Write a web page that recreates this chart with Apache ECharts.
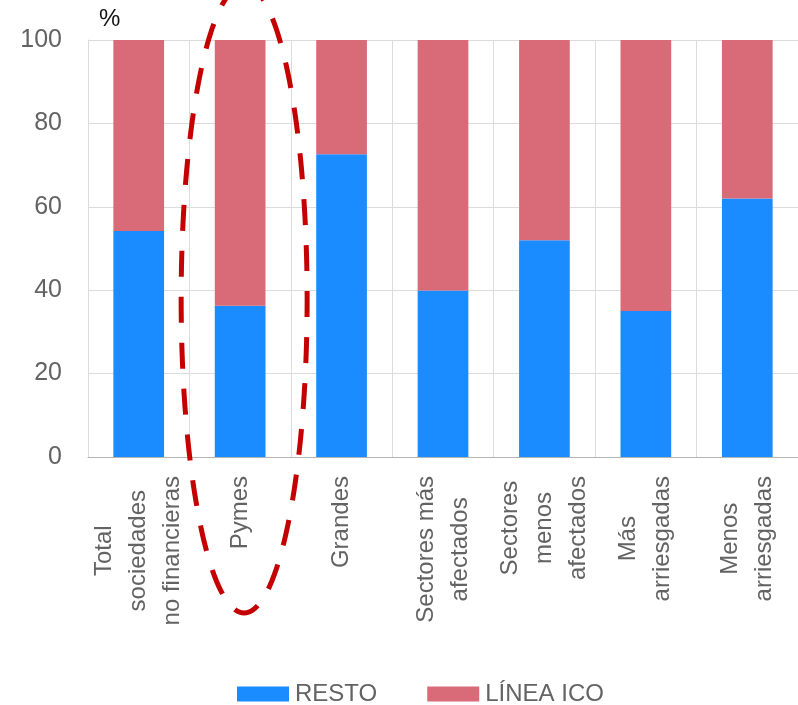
<!DOCTYPE html>
<html>
<head>
<meta charset="utf-8">
<script src="https://cdn.jsdelivr.net/npm/echarts@6/dist/echarts.min.js"></script>
<style>
  html, body { margin: 0; padding: 0; background: #fff; }
  #chart { width: 798px; height: 705px; }
</style>
</head>
<body>
<div id="chart"></div>
<script>
// Groups of non-financial companies (line breaks as shown under the axis)
var categories = [
  'Total\nsociedades\nno financieras',
  'Pymes',
  'Grandes',
  'Sectores más\nafectados',
  'Sectores\nmenos\nafectados',
  'Más\narriesgadas',
  'Menos\narriesgadas'
];
// Share of new credit, %
var resto = [54.2, 36.3, 72.6, 39.9, 52.0, 35.0, 62.0];
var lineaIco = [45.8, 63.7, 27.4, 60.1, 48.0, 65.0, 38.0];
var yTicks = [0, 20, 40, 60, 80, 100];
var highlighted = 'Pymes';

var FONT = 'Liberation Sans';
var TEXT = '#636363';

var chart = echarts.init(document.getElementById('chart'));

chart.setOption({
  animation: false,
  textStyle: { fontFamily: FONT },
  grid: { left: 88, top: 40, right: -1, bottom: 248, containLabel: false },
  legend: {
    data: ['RESTO', 'LÍNEA ICO'],
    left: 232,
    top: 677,
    icon: 'rect',
    itemWidth: 52,
    itemHeight: 15,
    itemGap: 50,
    textStyle: { fontFamily: FONT, fontSize: 24, color: TEXT, padding: [0, 0, 0, 1] }
  },
  xAxis: {
    type: 'category',
    data: categories,
    boundaryGap: true,
    axisLine: { show: true, lineStyle: { color: '#b5b5b5', width: 1 } },
    axisTick: { show: false },
    splitLine: { show: true, lineStyle: { color: '#dcdcdc', width: 1 } },
    axisLabel: {
      interval: 0,
      rotate: 90,
      margin: 19,
      formatter: function (v) {
        return v.split('\n').map(function (l) { return '{c|' + l + '}'; }).join('\n');
      },
      rich: {
        c: { align: 'center', fontFamily: FONT, fontSize: 24, lineHeight: 34, color: TEXT }
      }
    }
  },
  yAxis: {
    type: 'value',
    min: yTicks[0],
    max: yTicks[yTicks.length - 1],
    interval: yTicks[1] - yTicks[0],
    name: '%',
    nameLocation: 'end',
    nameGap: 9,
    nameTextStyle: { fontFamily: FONT, fontSize: 24, color: '#111', align: 'left', padding: [0, 0, 0, 11] },
    axisLine: { show: true, lineStyle: { color: '#dcdcdc' } },
    axisTick: { show: false },
    splitLine: { show: true, lineStyle: { color: '#dcdcdc', width: 1 } },
    axisLabel: { margin: 26, fontFamily: FONT, fontSize: 25, color: TEXT }
  },
  series: [
    {
      name: 'RESTO',
      type: 'bar',
      stack: 'total',
      barWidth: '50%',
      itemStyle: { color: '#1b8cff' },
      data: resto
    },
    {
      name: 'LÍNEA ICO',
      type: 'bar',
      stack: 'total',
      barWidth: '50%',
      itemStyle: { color: '#d96b78' },
      data: lineaIco
    }
  ]
});

// Dashed ellipse drawn around the highlighted group
function drawHighlight() {
  var cx = chart.convertToPixel({ xAxisIndex: 0 }, highlighted) + 4;
  var cy = 299, rx = 63, ry = 314;
  var pts = [];
  for (var i = 0; i <= 180; i++) {
    var t = (i / 180) * Math.PI * 2;
    pts.push([cx + rx * Math.sin(t), cy - ry * Math.cos(t)]);
  }
  chart.setOption({
    graphic: [{
      type: 'polyline',
      z: 100,
      shape: { points: pts },
      style: { fill: null, stroke: '#c40000', lineWidth: 5, lineDash: [26, 20] },
      silent: true
    }]
  });
}
drawHighlight();
</script>
</body>
</html>
